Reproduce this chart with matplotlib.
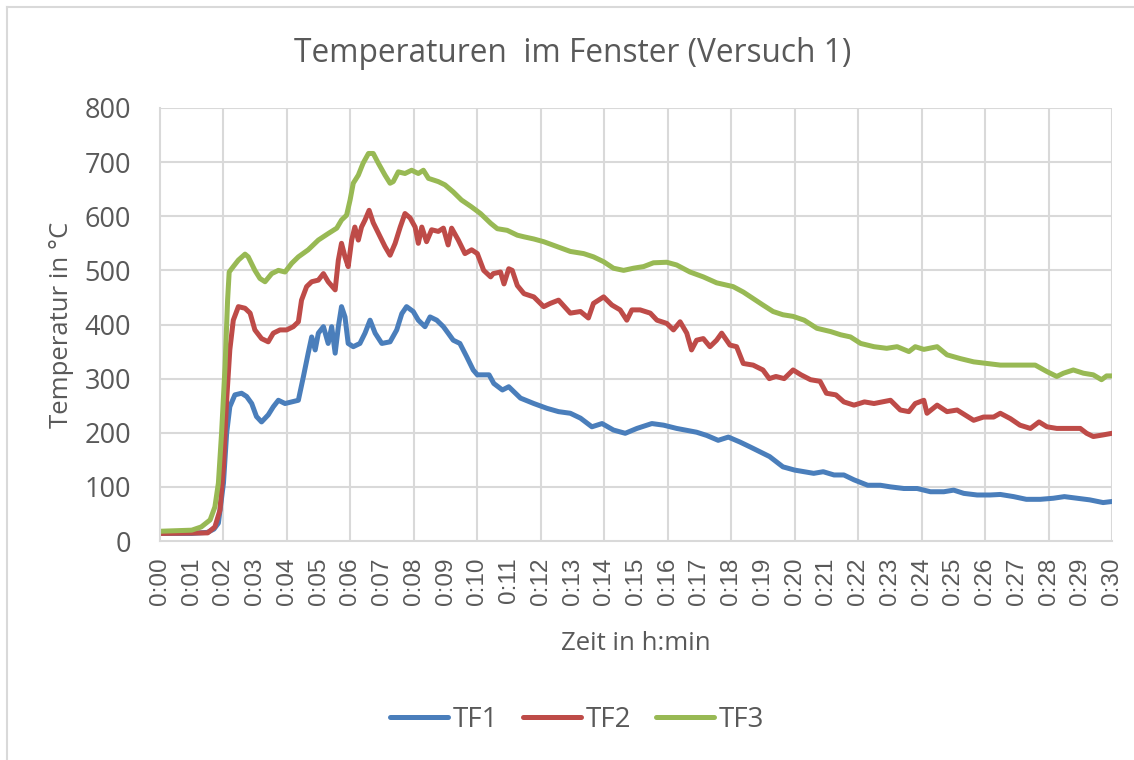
import matplotlib.pyplot as plt
from matplotlib.lines import Line2D
import numpy as np

# time in minutes / temperature in degC
t_tf1 = [0, 1.0, 1.5, 1.7, 1.84, 2.0, 2.1, 2.2, 2.36, 2.57, 2.73, 2.89, 3.04, 3.2, 3.41, 3.57, 3.73, 3.94,
         4.15, 4.36, 4.52, 4.67, 4.78, 4.89, 4.99, 5.15, 5.3, 5.41, 5.52, 5.62, 5.72, 5.83, 5.93, 6.09, 6.3,
         6.46, 6.62, 6.78, 6.99, 7.25, 7.46, 7.62, 7.77, 7.98, 8.14, 8.35, 8.51, 8.72, 8.93, 9.08, 9.24, 9.45,
         9.66, 9.87, 10.0, 10.37, 10.52, 10.79, 10.99, 11.36, 11.78, 12.2, 12.56, 12.93, 13.25, 13.61, 13.93,
         14.29, 14.66, 15.03, 15.5, 15.87, 16.28, 16.91, 17.23, 17.59, 17.91, 18.27, 18.59, 18.9, 19.21, 19.63,
         20.0, 20.3, 20.6, 20.9, 21.24, 21.55, 21.87, 22.3, 22.7, 23.02, 23.44, 23.86, 24.28, 24.7, 25.01,
         25.33, 25.75, 26.16, 26.48, 26.9, 27.3, 27.74, 28.15, 28.5, 28.9, 29.3, 29.72, 30.0]
tf1 = [14, 14, 16, 22, 33, 107, 199, 248, 270, 273, 267, 254, 230, 220, 233, 248, 260, 254,
       257, 260, 304, 347, 377, 353, 384, 396, 365, 396, 347, 396, 433, 414, 365, 359, 365,
       384, 408, 384, 365, 368, 390, 420, 433, 424, 408, 396, 414, 408, 396, 384, 371, 365,
       341, 316, 307, 307, 291, 279, 285, 264, 254, 245, 239, 236, 227, 211, 217,
       205, 199, 208, 217, 214, 208, 201, 195, 186, 192, 183, 174, 165, 156, 137,
       131, 128, 125, 128, 122, 122, 113, 103, 103, 100, 97, 97, 91, 91, 94,
       88, 85, 85, 86, 82, 77, 77, 79, 82, 79, 76, 71, 73]

t_tf2 = [0, 1.5, 1.73, 1.89, 2.0, 2.1, 2.2, 2.31, 2.47, 2.68, 2.84, 2.99, 3.2, 3.41, 3.57, 3.78, 3.99, 4.2,
         4.36, 4.46, 4.62, 4.78, 4.99, 5.15, 5.3, 5.52, 5.62, 5.72, 5.83, 5.93, 6.04, 6.14, 6.25, 6.35, 6.46,
         6.59, 6.72, 6.88, 7.09, 7.25, 7.41, 7.57, 7.72, 7.88, 8.04, 8.14, 8.25, 8.4, 8.56, 8.77, 8.93, 9.08,
         9.19, 9.4, 9.61, 9.82, 10.0, 10.2, 10.42, 10.5, 10.73, 10.84, 10.99, 11.1, 11.26, 11.47, 11.78,
         12.09, 12.3, 12.56, 12.93, 13.25, 13.5, 13.66, 13.98, 14.24, 14.5, 14.71, 14.87, 15.13, 15.45,
         15.66, 15.97, 16.18, 16.39, 16.6, 16.75, 16.91, 17.12, 17.33, 17.54, 17.7, 17.96, 18.17, 18.38,
         18.69, 19.0, 19.2, 19.41, 19.67, 19.95, 20.2, 20.5, 20.8, 21.0, 21.3, 21.55, 21.87, 22.2, 22.5,
         23.02, 23.33, 23.6, 23.8, 24.07, 24.17, 24.49, 24.8, 25.12, 25.64, 25.95, 26.27, 26.48, 26.8,
         27.1, 27.43, 27.7, 27.95, 28.26, 28.57, 29.0, 29.2, 29.41, 29.72, 30.0]
tf2 = [14, 15, 26, 57, 137, 260, 353, 408, 433, 430, 421, 390, 374, 368, 384, 390, 390, 396,
       405, 445, 470, 479, 482, 494, 479, 464, 519, 550, 525, 507, 556, 580, 556, 580, 593,
       611, 588, 569, 544, 528, 550, 580, 605, 597, 580, 550, 580, 553, 575, 572, 578, 547,
       578, 556, 531, 538, 531, 500, 488, 494, 497, 475, 503, 500, 472, 457, 451,
       433, 439, 445, 421, 424, 412, 439, 451, 436, 427, 408, 427, 427, 421,
       408, 402, 390, 405, 384, 353, 371, 374, 359, 371, 384, 362, 359, 328,
       325, 316, 300, 304, 300, 316, 307, 298, 295, 273, 270, 257, 251, 257, 254,
       260, 242, 239, 254, 260, 236, 251, 239, 242, 223, 229, 229, 236, 226,
       214, 208, 220, 211, 208, 208, 208, 199, 193, 196, 199]

t_tf3 = [0, 1.0, 1.3, 1.58, 1.73, 1.84, 1.94, 2.05, 2.13, 2.18, 2.31, 2.47, 2.68, 2.78, 2.99, 3.15, 3.31,
         3.52, 3.73, 3.94, 4.15, 4.36, 4.67, 4.99, 5.3, 5.57, 5.72, 5.88, 5.99, 6.09, 6.25, 6.4, 6.57, 6.72,
         6.88, 7.09, 7.25, 7.35, 7.51, 7.72, 7.93, 8.14, 8.3, 8.46, 8.77, 8.98, 9.24, 9.5, 9.8, 10.1, 10.42,
         10.63, 10.94, 11.26, 11.47, 11.78, 12.09, 12.51, 12.93, 13.35, 13.66, 13.98, 14.29, 14.61, 14.92,
         15.24, 15.55, 15.97, 16.28, 16.7, 17.12, 17.54, 18.06, 18.38, 18.69, 19.0, 19.32, 19.63, 19.95,
         20.3, 20.7, 21.13, 21.45, 21.76, 22.08, 22.5, 22.9, 23.23, 23.6, 23.8, 24.07, 24.49, 24.8, 25.22,
         25.64, 26.06, 26.48, 27.0, 27.58, 27.95, 28.26, 28.47, 28.78, 29.1, 29.41, 29.67, 29.83, 30.0]
tf3 = [18, 20, 26, 39, 63, 107, 199, 322, 445, 497, 507, 519, 530, 525, 500, 485, 479,
       494, 500, 497, 513, 525, 538, 556, 568, 578, 593, 602, 630, 661, 676, 698, 716, 716,
       698, 676, 661, 664, 682, 679, 685, 679, 685, 670, 664, 658, 645, 630, 618, 605, 587,
       577, 574, 565, 562, 558, 553, 544, 535, 531, 525, 516, 504, 500, 504,
       507, 514, 515, 510, 497, 488, 477, 470, 460, 448, 436, 424, 418, 415,
       408, 393, 387, 381, 377, 365, 359, 356, 359, 350, 359, 354, 359, 344, 337,
       331, 328, 325, 325, 325, 313, 304, 310, 316, 310, 307, 298, 305, 305]

series = ['TF1', 'TF2', 'TF3']
colors = ['#4A7EBB', '#BE4B48', '#98B954']
minutes = np.arange(0, 31)
tick_labels = ['0:%02d' % m for m in minutes]

W, H = 1134, 760
fig = plt.figure(figsize=(W / 100, H / 100), dpi=100)
ax = fig.add_axes([160 / W, 1 - 541 / H, (1112 - 160) / W, (541 - 108) / H])

txt = '#595959'
grid = '#D9D9D9'

for t, v, c, n in zip([t_tf1, t_tf2, t_tf3], [tf1, tf2, tf3], colors, series):
    ax.plot(t, v, color=c, lw=3.6, label=n, solid_joinstyle='round', solid_capstyle='round')

ax.set_xlim(0, 30)
ax.set_ylim(0, 800)
ax.set_yticks(range(0, 801, 100))
ax.set_xticks(minutes)
ax.set_xticklabels(tick_labels, rotation=90, family='Liberation Sans', fontsize=17.5, color=txt)
ax.tick_params(axis='y', labelsize=19.5, labelcolor=txt, length=0, pad=21)
ax.tick_params(axis='x', length=0, pad=12)
for lab in ax.get_yticklabels():
    lab.set_family('Open Sans')

# grid: horizontal every 100, vertical every 2 minutes
for y in range(100, 801, 100):
    ax.axhline(y, color=grid, lw=1.5, zorder=0)
for m in range(2, 31, 2):
    ax.axvline(m, color=grid, lw=1.5, zorder=0)
for s in ['top', 'right']:
    ax.spines[s].set_visible(False)
ax.spines['left'].set_color(grid)
ax.spines['left'].set_linewidth(1.5)
ax.spines['bottom'].set_color(grid)
ax.spines['bottom'].set_linewidth(1.5)

fig.text(573 / W, 1 - 53 / H, 'Temperaturen  im Fenster (Versuch 1)', ha='center', va='center',
         fontsize=22.8, color=txt, family='Open Sans')
fig.text(62 / W, 1 - 325 / H, 'Temperatur in °C', ha='center', va='center', rotation=90,
         fontsize=18.5, color=txt, family='Open Sans')
fig.text(636 / W, 1 - 643 / H, 'Zeit in h:min', ha='center', va='center',
         fontsize=18.5, color=txt, family='Open Sans')

handles = [Line2D([0], [0], color=c, lw=3.6, solid_capstyle='round') for c in colors]
leg = fig.legend(handles, series, loc='center', bbox_to_anchor=(577 / W, 1 - 720 / H), ncol=3,
                 frameon=False, handlelength=2.1, handletextpad=0.15, columnspacing=0.9,
                 prop={'family': 'Open Sans', 'size': 20})
for tx in leg.get_texts():
    tx.set_color(txt)

# chart area border (left and top edges visible)
fig.add_artist(Line2D([7 / W, 7 / W], [0, 1 - 7 / H], color=grid, lw=1.5))
fig.add_artist(Line2D([7 / W, 1], [1 - 7 / H, 1 - 7 / H], color=grid, lw=1.5))

fig.savefig('out.png', dpi=100)
